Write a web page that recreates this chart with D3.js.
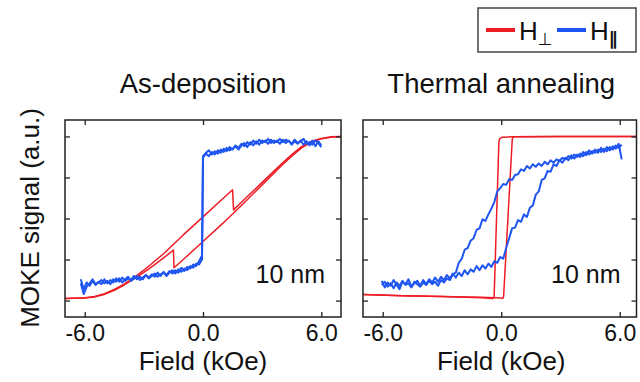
<!DOCTYPE html>
<html><head><meta charset="utf-8">
<script src="https://cdn.jsdelivr.net/npm/d3@7"></script>
<style>
body{margin:0;background:#fff}
svg{display:block}
text{font-family:"Liberation Sans",Arial,Helvetica,sans-serif;fill:#111}
</style>
</head><body><svg id="c" width="640" height="382"></svg>
<script>
// ---------- data ----------
const panelTitles = ["As-deposition", "Thermal annealing"];
const thicknessLabel = "10 nm";
const xTicks = [-6, 0, 6];
const xTickLabels = ["-6.0", "0.0", "6.0"];
const yTicks = [-1, -0.5, 0, 0.5, 1];
const xLabel = "Field (kOe)";
const yLabel = "MOKE signal (a.u.)";

// H-perp (red), [field kOe, signal]
const redLeftUp = [[-7,-0.975],[-6,-0.97],[-5.5,-0.955],[-5,-0.925],[-4.5,-0.875],[-4,-0.81],[-3.5,-0.735],[-3,-0.655],[-2.5,-0.57],[-2,-0.48],[-1.5,-0.385],[-1.47,-0.60],[-1,-0.50],[0,-0.28],[1,-0.06],[2,0.17],[3,0.41],[4,0.65],[4.5,0.76],[5,0.86],[5.5,0.93],[6,0.97],[6.5,0.99],[7,1.0]];
const redLeftDown = [[7,1.0],[6.5,0.995],[6,0.975],[5.5,0.94],[5,0.875],[4.5,0.78],[4,0.67],[3,0.44],[2,0.21],[1.55,0.105],[1.5,0.35],[1,0.24],[0,0.02],[-1,-0.20],[-2,-0.43],[-3,-0.63],[-3.5,-0.72],[-4,-0.80],[-4.5,-0.865],[-5,-0.915],[-5.5,-0.95],[-6,-0.965],[-7,-0.975]];
const redRightDown = [[6.85,1.0],[3,1.0],[0.5,0.995],[0.05,0.99],[-0.08,0.97],[-0.12,0.93],[-0.36,-0.96],[-0.45,-0.975],[-1,-0.965],[-3,-0.95],[-5,-0.94],[-7,-0.925]];
const redRightUp = [[-7,-0.925],[-5,-0.94],[-3,-0.95],[-1,-0.96],[0,-0.97],[0.08,-0.975],[0.12,-0.95],[0.56,0.97],[0.62,0.995],[3,1.0],[6.85,1.0]];

// H-parallel (blue), measured on a 0.15 kOe field grid
const blueLeftLowField = d3.range(-6.2, -0.04, 0.15);
const blueLeftHighField = d3.range(0, 6.01, 0.15);
const blueLeftLow1 = [-0.74,-0.86,-0.78,-0.82,-0.76,-0.81,-0.77,-0.80,-0.74,-0.79,-0.75,-0.78,-0.73,-0.77,-0.72,-0.76,-0.73,-0.75,-0.70,-0.74,-0.71,-0.74,-0.69,-0.72,-0.68,-0.71,-0.66,-0.70,-0.65,-0.69,-0.64,-0.67,-0.63,-0.66,-0.60,-0.64,-0.59,-0.61,-0.56,-0.58,-0.52,-0.45];
const blueLeftHigh1 = [0.74,0.79,0.76,0.81,0.78,0.83,0.80,0.85,0.82,0.87,0.84,0.89,0.86,0.91,0.88,0.93,0.90,0.95,0.91,0.96,0.92,0.95,0.91,0.96,0.92,0.95,0.91,0.96,0.92,0.95,0.90,0.94,0.91,0.95,0.90,0.94,0.89,0.95,0.88,0.94,0.89];
const blueLeftHigh2 = [0.76,0.80,0.83,0.78,0.82,0.79,0.84,0.81,0.86,0.83,0.85,0.88,0.84,0.89,0.92,0.87,0.93,0.89,0.94,0.90,0.95,0.93,0.97,0.92,0.95,0.93,0.97,0.93,0.96,0.94,0.91,0.96,0.92,0.94,0.97,0.91,0.93,0.90,0.95,0.92,0.87];
const blueLeftLow2 = [-0.79,-0.92,-0.83,-0.79,-0.74,-0.80,-0.78,-0.75,-0.79,-0.76,-0.80,-0.74,-0.77,-0.73,-0.78,-0.74,-0.71,-0.76,-0.73,-0.70,-0.75,-0.72,-0.69,-0.73,-0.70,-0.67,-0.71,-0.68,-0.66,-0.70,-0.66,-0.63,-0.67,-0.62,-0.65,-0.61,-0.63,-0.58,-0.60,-0.55,-0.56,-0.50];

const blueRightField = d3.range(-6.05, 6.11, 0.15);
const blueRightUp = [-0.76,-0.84,-0.78,-0.82,-0.75,-0.81,-0.86,-0.77,-0.80,-0.74,-0.83,-0.79,-0.76,-0.82,
 -0.75,-0.80,-0.74,-0.78,-0.72,-0.77,-0.71,
 -0.75,-0.69,-0.73,-0.67,-0.72,-0.66,-0.70,-0.63,-0.68,-0.62,
 -0.65,-0.58,-0.63,-0.57,-0.61,-0.55,-0.59,
 -0.52,-0.54,-0.47,
 -0.49,-0.36,-0.24,-0.12,-0.11,-0.02,-0.04,0.05,0.02,0.13,0.16,0.29,0.33,0.47,0.49,0.58,0.57,0.66,0.64,0.71,
 0.68,0.74,0.71,0.77,0.73,0.78,0.75,0.81,0.77,0.83,0.79,0.84,0.80,0.86,0.81,0.87,0.83,0.88,0.85,0.91,0.72];
const blueRightDown = [-0.81,-0.77,-0.83,-0.79,-0.85,-0.78,-0.82,-0.76,-0.81,-0.79,-0.84,-0.77,-0.80,-0.83,
 -0.78,-0.81,-0.76,-0.80,-0.77,-0.82,-0.75,
 -0.78,-0.73,-0.75,-0.68,-0.66,-0.54,-0.49,-0.38,-0.36,-0.27,
 -0.24,-0.14,-0.12,-0.01,-0.03,0.05,0.12,
 0.20,0.33,0.37,
 0.42,0.41,0.48,0.47,0.53,0.54,0.60,0.58,0.64,0.61,0.66,0.63,0.67,0.64,0.69,0.66,0.71,0.68,0.72,0.70,
 0.74,0.72,0.76,0.73,0.78,0.75,0.79,0.76,0.81,0.78,0.82,0.80,0.84,0.81,0.85,0.82,0.87,0.84,0.89,0.86,0.90];

// ---------- drawing ----------
const RED = "#ee1c25", BLUE = "#1f55f0", INK = "#222";
const svg = d3.select("#c");
const plotTop = 120, plotBottom = 317;
const panelDefs = [
  {x0: 65, x1: 341, dom: [-7, 7],
   red: [redLeftUp, redLeftDown],
   blue: [
     blueLeftLowField.map((f,i)=>[f, blueLeftLow1[i]]).concat(blueLeftHighField.map((f,i)=>[f, blueLeftHigh1[i]])),
     blueLeftHighField.map((f,i)=>[f, blueLeftHigh2[i]]).reverse().concat(blueLeftLowField.map((f,i)=>[f, blueLeftLow2[i]]).reverse())
   ]},
  {x0: 363, x1: 636.5, dom: [-7, 6.85],
   red: [redRightDown, redRightUp],
   blue: [
     blueRightField.map((f,i)=>[f, blueRightUp[i]]),
     blueRightField.map((f,i)=>[f, blueRightDown[i]])
   ]}
];
const y = d3.scaleLinear().domain([-1.2, 1.2]).range([plotBottom, plotTop]);

panelDefs.forEach((p, k) => {
  const x = d3.scaleLinear().domain(p.dom).range([p.x0, p.x1]);
  const g = svg.append("g");
  const cid = "clip" + k;
  svg.append("clipPath").attr("id", cid).append("rect")
    .attr("x", p.x0).attr("y", plotTop).attr("width", p.x1 - p.x0).attr("height", plotBottom - plotTop);
  const line = d3.line().defined(d => d[1] !== undefined).x(d => x(d[0])).y(d => y(d[1]));
  const data = g.append("g").attr("clip-path", `url(#${cid})`);
  p.red.forEach(r => data.append("path").attr("d", line(r)).attr("fill","none")
    .attr("stroke", RED).attr("stroke-width", 1.5).attr("stroke-linejoin","round"));
  p.blue.forEach(b => data.append("path").attr("d", line(b)).attr("fill","none")
    .attr("stroke", BLUE).attr("stroke-width", 2).attr("stroke-linejoin","round"));

  // axes (inward ticks on all four sides)
  const ax = (a) => a.tickSizeOuter(0);
  const gb = g.append("g").attr("transform", `translate(0,${plotBottom})`)
    .call(ax(d3.axisBottom(x).tickValues(xTicks).tickSize(-5).tickPadding(7.5)
      .tickFormat((d,i) => xTickLabels[i])));
  const gt = g.append("g").attr("transform", `translate(0,${plotTop})`)
    .call(ax(d3.axisTop(x).tickValues(xTicks).tickSize(-5).tickFormat("")));
  const gl = g.append("g").attr("transform", `translate(${p.x0},0)`)
    .call(ax(d3.axisLeft(y).tickValues(yTicks).tickSize(-5).tickFormat("")));
  const gr = g.append("g").attr("transform", `translate(${p.x1},0)`)
    .call(ax(d3.axisRight(y).tickValues(yTicks).tickSize(-5).tickFormat("")));
  [gb, gt, gl, gr].forEach(a => {
    a.select(".domain").remove();
    a.selectAll(".tick line").attr("stroke", INK).attr("stroke-width", 1.3);
    a.selectAll("text").attr("font-size", 23).attr("fill", "#111")
      .style("font-family", '"Liberation Sans",Arial,sans-serif');
  });
  g.append("rect").attr("x", p.x0).attr("y", plotTop).attr("width", p.x1 - p.x0).attr("height", plotBottom - plotTop)
    .attr("fill", "none").attr("stroke", INK).attr("stroke-width", 1.5);

  const cx = x(0);
  g.append("text").attr("x", cx).attr("y", 93).attr("text-anchor", "middle")
    .attr("font-size", 27.5).text(panelTitles[k]);
  g.append("text").attr("x", cx).attr("y", 370).attr("text-anchor", "middle")
    .attr("font-size", 26).text(xLabel);
  g.append("text").attr("x", p.x1 - 16).attr("y", 283).attr("text-anchor", "end")
    .attr("font-size", 25).text(thicknessLabel);
});

// y label
svg.append("text").attr("transform", "translate(39,218) rotate(-90)")
  .attr("text-anchor", "middle").attr("font-size", 26).text(yLabel);

// legend
const lg = svg.append("g");
lg.append("rect").attr("x", 478).attr("y", 8).attr("width", 158).attr("height", 44)
  .attr("fill", "#fff").attr("stroke", "#444").attr("stroke-width", 1.5);
lg.append("line").attr("x1", 486).attr("x2", 515).attr("y1", 30).attr("y2", 30)
  .attr("stroke", RED).attr("stroke-width", 4);
lg.append("line").attr("x1", 557).attr("x2", 586).attr("y1", 30).attr("y2", 30)
  .attr("stroke", BLUE).attr("stroke-width", 4);
const t1 = lg.append("text").attr("x", 519).attr("y", 40).attr("font-size", 26);
t1.append("tspan").text("H");
t1.append("tspan").attr("dy", 5).attr("font-size", 17).attr("font-family", "DejaVu Sans").text("⊥");
const t2 = lg.append("text").attr("x", 590).attr("y", 40).attr("font-size", 26);
t2.append("tspan").text("H");
t2.append("tspan").attr("dy", 5).attr("font-size", 18).attr("font-weight", "bold").attr("font-family", "DejaVu Sans").text("∥");
</script>
</body></html>
